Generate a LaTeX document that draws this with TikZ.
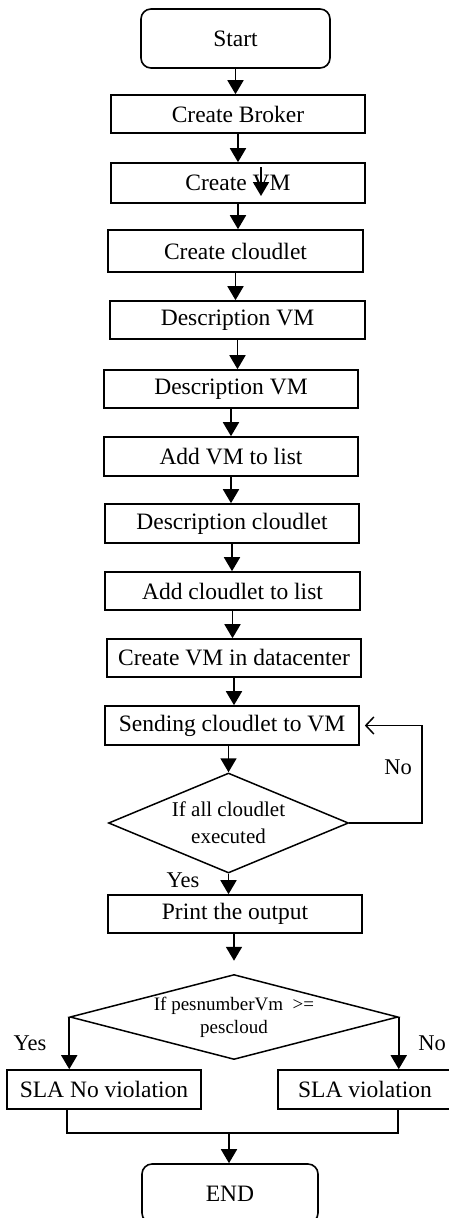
\documentclass[tikz,border=0pt]{standalone}
\usepackage{fontspec}
\setmainfont{Liberation Serif}
\usetikzlibrary{shapes.geometric,arrows.meta}

\tikzset{
  stepbox/.style={draw=black, line width=1.6pt, minimum height=38pt, inner sep=0pt, font=\fontsize{23.5}{27}\selectfont},
  termbox/.style={stepbox, rounded corners=10pt},
  decision/.style={draw=black, line width=1.5pt, diamond, inner sep=0pt, align=center},
  arr/.style={line width=1.8pt, -{Triangle[length=14pt,width=16pt]}},
  backarr/.style={line width=1.5pt, -{Straight Barb[length=8pt,width=17pt,line width=1.5pt]}},
  lbl/.style={font=\fontsize{22.5}{26}\selectfont}
}

\begin{document}
\begin{tikzpicture}[x=1pt,y=-1pt]
\useasboundingbox (0,0) rectangle (449,1218);

\node[termbox, minimum width=189pt, minimum height=59pt] (start) at (235.5,38.5) {Start};
\node[stepbox, minimum width=254pt] (broker) at (238,114) {Create Broker};
\node[stepbox, minimum width=254pt, minimum height=40pt] (vm) at (238,183) {Create VM};
\node[stepbox, minimum width=255pt, minimum height=42pt] (cloudlet) at (235.5,251) {Create cloudlet};
\node[stepbox, minimum width=255pt] (descvm) at (237.5,320) {Description VM};
\node[stepbox, minimum width=254pt] (descvmb) at (231,389) {Description VM};
\node[stepbox, minimum width=254pt, minimum height=39pt] (addvm) at (231,456.5) {Add VM to list};
\node[stepbox, minimum width=254pt, minimum height=39pt] (desccl) at (232,523.5) {Description cloudlet};
\node[stepbox, minimum width=255pt] (addcl) at (232.5,591) {Add cloudlet to list};
\node[stepbox, minimum width=254pt] (vmdc) at (234,658) {Create VM in datacenter};
\node[stepbox, minimum width=254pt, minimum height=39pt] (send) at (232,725.5) {Sending cloudlet to VM};
\node[decision, aspect=2.4, minimum width=240pt, minimum height=100pt, font=\fontsize{21}{27}\selectfont] (allexec) at (228.5,823) {If all cloudlet\\executed};
\node[stepbox, minimum width=254pt] (print) at (235,914) {Print the output};
\node[decision, aspect=3.86, minimum width=328pt, minimum height=85pt, font=\fontsize{19}{23}\selectfont] (pescheck) at (234,1017) {If pesnumberVm\ \ >=\\pescloud};
\node[stepbox, minimum width=194pt, minimum height=39pt] (slano) at (104,1089.5) {SLA No violation};
\node[stepbox, minimum width=174pt, minimum height=39pt] (slavio) at (365,1089.5) {SLA violation};
\node[termbox, minimum width=176pt, minimum height=59pt] (end) at (230,1193.5) {END};

% main line
\draw[arr] (start.south) -- (start.south |- broker.north);
\draw[arr] (broker.south) -- (broker.south |- vm.north);
\draw[arr] (vm.south) -- (vm.south |- cloudlet.north);
\draw[arr] (cloudlet.south) -- (cloudlet.south |- descvm.north);
\draw[arr] (descvm.south) -- (descvm.south |- descvmb.north);
\draw[arr] (descvmb.south) -- (descvmb.south |- addvm.north);
\draw[arr] (addvm.south) -- (addvm.south |- desccl.north);
\draw[arr] (desccl.south) -- (desccl.south |- addcl.north);
\draw[arr] (addcl.south) -- (addcl.south |- vmdc.north);
\draw[arr] (vmdc.south) -- (vmdc.south |- send.north);
\draw[arr] (send.south -| allexec.north) -- (allexec.north);
\draw[arr] (allexec.south) -- (allexec.south |- print.north);
\draw[arr, shorten >=13pt] (print.south -| pescheck.north) -- (pescheck.north);

% stray arrow inside Create VM
\coordinate (strayA) at (261,167);
\coordinate (strayB) at (261,196);
\draw[arr] (strayA) -- (strayB);

% loop back
\coordinate (loopR) at (422,823);
\draw[backarr, shorten >=5pt] (allexec.east) -- (loopR) -- (loopR |- send.east) -- (send.east);
\node[lbl] (nolabel) at (398,767) {No};
\node[lbl] (yeslabel) at (183,880) {Yes};

% branches
\draw[arr] (pescheck.west) -- (pescheck.west |- slano.north);
\draw[arr] (pescheck.east) -- (pescheck.east |- slavio.north);
\node[lbl] (yesleft) at (30,1043) {Yes};
\node[lbl] (noright) at (432,1043) {No};

% merge
\coordinate (mergeL) at (67,1133);
\coordinate (mergeR) at (398,1133);
\coordinate (join) at (229,1133);
\draw[line width=1.5pt] (mergeL |- slano.south) -- (mergeL) -- (mergeR) -- (mergeR |- slavio.south);
\draw[arr] (join) -- (join |- end.north);

\end{tikzpicture}
\end{document}
